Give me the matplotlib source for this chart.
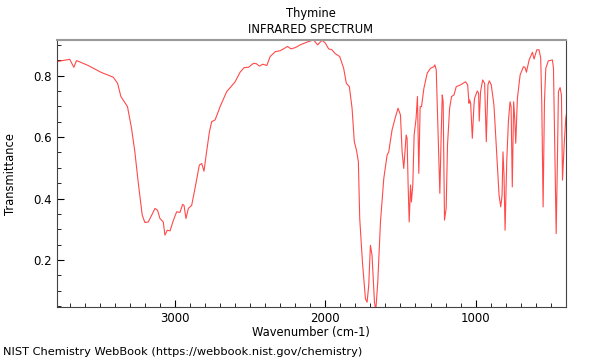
import numpy as np
import matplotlib.pyplot as plt
from matplotlib.ticker import MultipleLocator

# Thymine IR spectrum (wavenumber cm-1, transmittance)
wavenumber = [3782, 3700, 3673, 3655, 3578, 3489, 3411, 3382, 3360, 3333, 3316, 3289,
              3267, 3245, 3218, 3200, 3178, 3155, 3133, 3116, 3100, 3078, 3067, 3051,
              3033, 3011, 2989, 2967, 2949, 2940, 2927, 2911, 2889, 2867, 2838, 2822,
              2807, 2793, 2771, 2756, 2733, 2700, 2656, 2622, 2600, 2567, 2540, 2511,
              2478, 2460, 2438, 2416, 2389, 2367, 2333, 2300, 2278, 2251, 2229, 2200,
              2167, 2122, 2078, 2051, 2022, 2000, 1978, 1956, 1933, 1904, 1878, 1860,
              1840, 1822, 1807, 1793, 1780, 1771, 1753, 1733, 1722, 1711, 1700, 1689,
              1673, 1664, 1651, 1633, 1611, 1589, 1578, 1556, 1533, 1516, 1500, 1489,
              1478, 1462, 1456, 1449, 1442, 1433, 1427, 1418, 1409, 1396, 1387, 1378,
              1369, 1360, 1344, 1322, 1300, 1278, 1271, 1262, 1251, 1238, 1229, 1222,
              1216, 1207, 1196, 1187, 1173, 1160, 1144, 1129, 1100, 1067, 1053, 1044,
              1040, 1033, 1022, 1011, 1007, 989, 980, 976, 967, 953, 940, 929,
              918, 909, 896, 878, 860, 844, 833, 824, 818, 811, 804, 793,
              782, 771, 764, 756, 747, 740, 733, 722, 704, 682, 671, 662,
              644, 622, 611, 593, 578, 567, 560, 551, 542, 533, 516, 489,
              482, 473, 464, 456, 449, 438, 429, 422, 411, 400, 391]
transmittance = [0.846, 0.853, 0.827, 0.849, 0.833, 0.810, 0.795, 0.775, 0.732, 0.712, 0.699, 0.628,
                 0.552, 0.454, 0.346, 0.322, 0.324, 0.346, 0.368, 0.362, 0.335, 0.324, 0.281, 0.297,
                 0.295, 0.329, 0.357, 0.355, 0.381, 0.378, 0.335, 0.368, 0.378, 0.433, 0.509, 0.514,
                 0.489, 0.541, 0.617, 0.650, 0.656, 0.699, 0.748, 0.767, 0.780, 0.811, 0.826, 0.827,
                 0.840, 0.839, 0.831, 0.837, 0.833, 0.862, 0.878, 0.881, 0.887, 0.895, 0.887, 0.891,
                 0.900, 0.909, 0.916, 0.900, 0.915, 0.906, 0.887, 0.884, 0.871, 0.862, 0.824, 0.775,
                 0.764, 0.694, 0.585, 0.558, 0.520, 0.335, 0.194, 0.074, 0.063, 0.118, 0.248, 0.215,
                 0.063, 0.036, 0.128, 0.324, 0.465, 0.541, 0.552, 0.623, 0.666, 0.694, 0.672, 0.552,
                 0.498, 0.607, 0.596, 0.444, 0.324, 0.444, 0.389, 0.444, 0.607, 0.661, 0.732, 0.482,
                 0.699, 0.699, 0.759, 0.808, 0.824, 0.829, 0.835, 0.819, 0.639, 0.417, 0.607, 0.737,
                 0.715, 0.330, 0.368, 0.574, 0.694, 0.732, 0.737, 0.764, 0.770, 0.780, 0.770, 0.710,
                 0.721, 0.710, 0.596, 0.704, 0.726, 0.750, 0.743, 0.652, 0.748, 0.786, 0.775, 0.585,
                 0.770, 0.783, 0.770, 0.704, 0.552, 0.411, 0.373, 0.411, 0.552, 0.476, 0.297, 0.520,
                 0.650, 0.715, 0.699, 0.438, 0.715, 0.661, 0.580, 0.726, 0.802, 0.829, 0.827, 0.811,
                 0.851, 0.876, 0.854, 0.884, 0.884, 0.857, 0.715, 0.373, 0.715, 0.824, 0.848, 0.851,
                 0.824, 0.552, 0.286, 0.520, 0.748, 0.761, 0.737, 0.460, 0.574, 0.661, 0.690]

fig = plt.figure(figsize=(6, 3.6), dpi=100)
ax = fig.add_axes([0.095, 0.147, 0.848, 0.742])
ax.plot(wavenumber, transmittance, color='#ff2a2a', lw=0.8, alpha=0.85)

ax.set_xlim(3785, 400)
ax.set_ylim(0.047, 0.916)
ax.xaxis.set_major_locator(MultipleLocator(1000))
ax.xaxis.set_minor_locator(MultipleLocator(100))
ax.yaxis.set_major_locator(MultipleLocator(0.2))
ax.yaxis.set_minor_locator(MultipleLocator(0.05))
ax.tick_params(which='both', direction='in', labelsize=8.5, top=False, right=False)
ax.tick_params(which='major', length=5)
ax.tick_params(which='minor', length=3)

for side in ['left', 'bottom', 'right']:
    ax.spines[side].set_color('#444444')
ax.spines['top'].set_color('#999999')
ax.spines['top'].set_linewidth(1.5)

ax.set_xlabel('Wavenumber (cm-1)', fontsize=8.3, labelpad=1)
ax.set_ylabel('Transmittance', fontsize=8.3, labelpad=12)
fig.text(0.518, 0.963, 'Thymine', ha='center', va='center', fontsize=8.3)
fig.text(0.518, 0.918, 'INFRARED SPECTRUM', ha='center', va='center', fontsize=8.3)
fig.text(0.005, 0.022, 'NIST Chemistry WebBook (https://webbook.nist.gov/chemistry)',
         ha='left', va='center', fontsize=8.2)

fig.savefig('out.png')
